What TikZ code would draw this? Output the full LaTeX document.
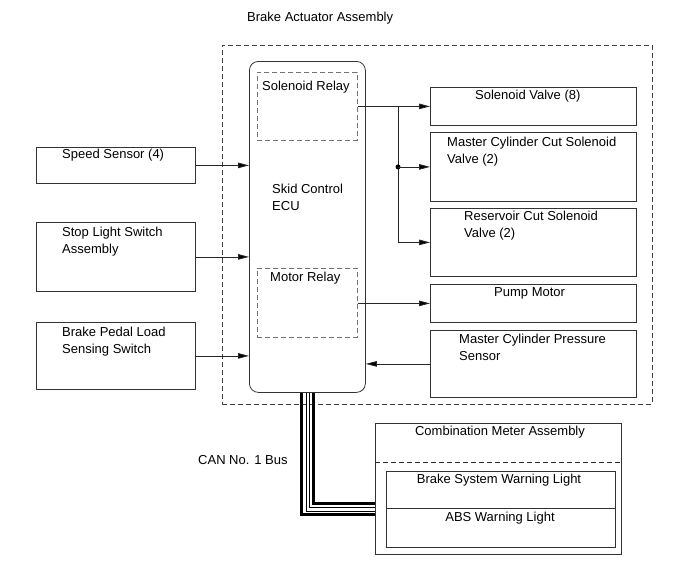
\documentclass[tikz,border=0pt]{standalone}
\usepackage{fontspec}
\setmainfont{Liberation Sans}
\usetikzlibrary{arrows.meta,calc}
\begin{document}
\begin{tikzpicture}[x=1pt,y=-1pt,
  box/.style={draw=black!80,line width=0.8pt,rectangle,inner sep=0pt,anchor=north west},
  dbox/.style={draw=black!75,line width=0.7pt,dash pattern=on 5pt off 3pt,rectangle,inner sep=0pt,anchor=north west},
  txt/.style={inner sep=0pt,anchor=west,align=left,font=\fontsize{13}{17}\selectfont},
  ctxt/.style={inner sep=0pt,anchor=center,align=center,font=\fontsize{13}{17}\selectfont},
  con/.style={draw=black!85,line width=0.8pt},
  arr/.style={con,-{Triangle[length=11pt,width=5.5pt,fill=black]}},
  busthick/.style={draw=black,line width=3.5pt},
  busthin/.style={draw=black,line width=0.8pt}]
\useasboundingbox (0,0) rectangle (690,562);

% outer actuator assembly
\node[dbox,minimum width=430pt,minimum height=359pt] (act) at (222,45) {};
\node[txt] (acttxt) at (247,18) {Brake Actuator Assembly};

% ECU
\node[box,rounded corners=9pt,minimum width=116pt,minimum height=331pt] (ecu) at (249,61) {};
\node[dbox,draw=black!55,minimum width=100pt,minimum height=68pt] (srelay) at (257,72) {};
\node[dbox,draw=black!55,minimum width=100pt,minimum height=69pt] (mrelay) at (257,268) {};
\node[txt] (srelaytxt) at (262,87) {Solenoid Relay};
\node[txt] (ecutxt) at (272,197) {Skid Control\\ECU};
\node[txt] (mrelaytxt) at (270,278) {Motor Relay};

% left inputs
\node[box,minimum width=159pt,minimum height=36pt] (speed) at (36,147) {};
\node[txt] (speedtxt) at (62,155) {Speed Sensor (4)};
\node[box,minimum width=159pt,minimum height=69pt] (stop) at (36,222) {};
\node[txt] (stoptxt) at (62,241.5) {Stop Light Switch\\Assembly};
\node[box,minimum width=159pt,minimum height=67pt] (pedal) at (36,322) {};
\node[txt] (pedaltxt) at (62,341.5) {Brake Pedal Load\\Sensing Switch};

% right outputs
\node[box,minimum width=206pt,minimum height=38pt] (sv) at (430,87) {};
\node[txt] (svtxt) at (475,96) {Solenoid Valve (8)};
\node[box,minimum width=206pt,minimum height=69pt] (mc) at (430,132) {};
\node[txt] (mctxt) at (447,151.5) {Master Cylinder Cut Solenoid\\Valve (2)};
\node[box,minimum width=206pt,minimum height=68pt] (rc) at (430,208) {};
\node[txt] (rctxt) at (464,225.5) {Reservoir Cut Solenoid\\Valve (2)};
\node[box,minimum width=206pt,minimum height=38pt] (pump) at (430,284) {};
\node[txt] (pumptxt) at (494,293) {Pump Motor};
\node[box,minimum width=206pt,minimum height=67pt] (mcps) at (430,330) {};
\node[txt] (mcpstxt) at (459,347.5) {Master Cylinder Pressure\\Sensor};

% connectors
\draw[arr] (speed.east) -- (speed.east -| ecu.west);
\draw[arr] (stop.east) -- (stop.east -| ecu.west);
\draw[arr] (pedal.east) -- (pedal.east -| ecu.west);
\draw[arr] (srelay.east |- sv.west) -- (sv.west);
\coordinate (br) at (398,106);
\draw[con] (br |- sv.west) -- (br |- rc.west);
\fill[black] (br |- mc.west) circle (2.5pt);
\draw[arr] (br |- mc.west) -- (mc.west);
\draw[arr] (br |- rc.west) -- (rc.west);
\draw[arr] (mrelay.east |- pump.west) -- (pump.west);
\draw[arr] (mcps.west) -- (mcps.west -| ecu.east);

% combination meter
\node[box,minimum width=246pt,minimum height=131pt] (comb) at (375,423) {};
\draw[con,dash pattern=on 5pt off 3pt] (comb.west |- 0,462) coordinate (cd1) -- (cd1 -| comb.east);
\node[ctxt] (combtxt) at (500,432) {Combination Meter Assembly};
\node[box,minimum width=229pt,minimum height=37pt] (bswl) at (386,471) {};
\node[box,minimum width=229pt,minimum height=39pt] (abswl) at (386,508) {};
\node[ctxt] (bswltxt) at (499,480) {Brake System Warning Light};
\node[ctxt] (abswltxt) at (500,518) {ABS Warning Light};

% CAN bus
\coordinate (b1) at (301.5,514.5);
\coordinate (b2) at (306,511);
\coordinate (b3) at (309.5,507.5);
\coordinate (b4) at (313.5,503.5);
\draw[busthick] (b1 |- ecu.south) |- (b1 -| comb.west);
\draw[busthin] (b2 |- ecu.south) |- (b2 -| comb.west);
\draw[busthin] (b3 |- ecu.south) |- (b3 -| comb.west);
\draw[busthick] (b4 |- ecu.south) |- (b4 -| comb.west);
\node[txt] (cantxt) at (198,460) {CAN No. 1 Bus};
\end{tikzpicture}
\end{document}
